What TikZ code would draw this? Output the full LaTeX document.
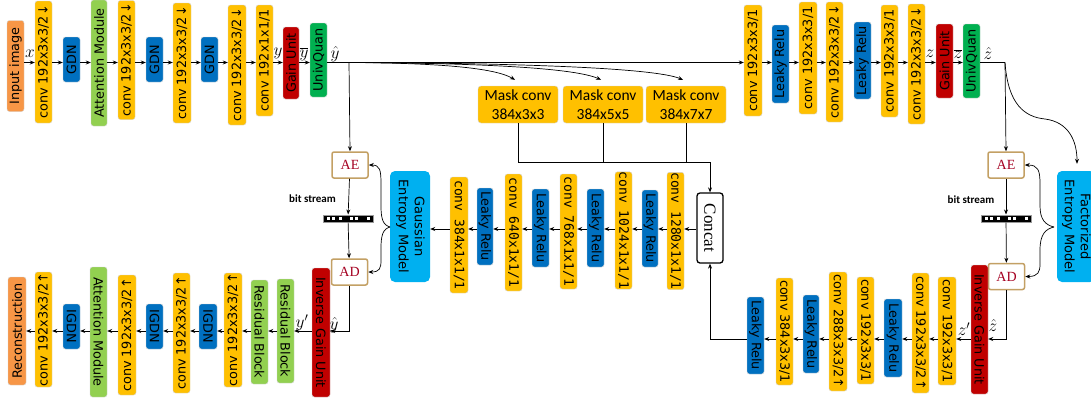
\documentclass[tikz,border=0pt]{standalone}
\usepackage{fontspec}
\usetikzlibrary{arrows.meta}
\setmainfont{DejaVu Sans}
\newfontfamily\monof{DejaVu Sans Mono}
\newfontfamily\calf{Carlito}
\newfontfamily\serf{Liberation Serif}
\definecolor{cOrange}{HTML}{F79646}
\definecolor{cYellow}{HTML}{FFC000}
\definecolor{cBlue}{HTML}{0070C0}
\definecolor{cGreenL}{HTML}{92D050}
\definecolor{cRed}{HTML}{C00000}
\definecolor{cGreenU}{HTML}{00B050}
\definecolor{cCyan}{HTML}{00B0F0}
\definecolor{cTan}{HTML}{C3A064}
\definecolor{cAE}{HTML}{A50021}
\newcommand\upT[1]{\rotatebox{90}{#1}}
\newcommand\dnT[1]{\rotatebox{-90}{#1}}
\newcommand\bx[7]{\node[blk,fill=#2,minimum width=#5pt,minimum height=#6pt] (#1) at (#3,#4) {#7};}
\begin{document}
\begin{tikzpicture}[x=1pt,y=-1pt,
  blk/.style={rounded corners=2.5pt, inner sep=0pt, draw=black!18, line width=0.4pt, font=\fontsize{12.8}{14}\selectfont},
  arr/.style={-{Stealth[length=5pt,width=4pt]}, line width=0.7pt},
  ln/.style={line width=0.7pt},
  lbl/.style={inner sep=0pt, font=\fontsize{17.28}{17}\selectfont},
  coder/.style={rounded corners=2pt, draw=cTan, line width=1.5pt, fill=white, text=cAE, inner sep=0pt, minimum width=36pt, minimum height=26pt, font=\serf\fontsize{14}{14}\selectfont},
  bitlbl/.style={inner sep=0pt, font=\calf\bfseries\fontsize{11}{11}\selectfont},
  bar/.style={draw=black!40, line width=1pt, fill=black, minimum width=50pt, minimum height=7pt, inner sep=0pt},
  mask/.style={rounded corners=3pt, fill=cYellow, draw=black!18, line width=0.4pt, minimum width=80pt, minimum height=37pt, inner sep=0pt, align=center, font=\calf\fontsize{15.5}{19}\selectfont},
  ent/.style={rounded corners=5pt, fill=cCyan, inner sep=0pt, font=\fontsize{13}{16}\selectfont},
  mono/.style={font=\monof\fontsize{13}{14}\selectfont}
]
\clip (0,0) rectangle (1091,400);
\coordinate (rowA) at (0,62.5);
\coordinate (rowB) at (0,229);
\coordinate (rowC) at (0,331);
\coordinate (rowD) at (0,339);
\coordinate (merge) at (0,162);

% ---------- top-left encoder ----------
\bx{in}{cOrange}{15.5}{66}{17}{91}{\upT{Input image}}
\bx{c1}{cYellow}{43.5}{62}{17}{122}{\upT{conv 192x3x3/2↓}}
\bx{g1}{cBlue}{71.5}{59.5}{17}{45}{\upT{GDN}}
\bx{am1}{cGreenL}{99}{63}{16}{126}{\upT{Attention Module}}
\bx{c2}{cYellow}{126.5}{60}{17}{119}{\upT{conv 192x3x3/2↓}}
\bx{g2}{cBlue}{154.5}{59.5}{17}{45}{\upT{GDN}}
\bx{c3}{cYellow}{182}{63}{18}{120}{\upT{conv 192x3x3/2↓}}
\bx{g3}{cBlue}{209.5}{59.5}{17}{45}{\upT{GDN}}
\bx{c4}{cYellow}{237}{65}{18}{120}{\upT{conv 192x3x3/2↓}}
\bx{c5}{cYellow}{264.5}{60.5}{17}{111}{\upT{conv 192x1x1/1}}
\bx{gu1}{cRed}{291}{63}{16}{72}{\upT{Gain Unit}}
\bx{uq1}{cGreenU}{318.5}{60}{17}{74}{\upT{UnivQuan}}

% ---------- top-right hyper encoder ----------
\bx{r1}{cYellow}{753}{60.5}{18}{111}{\upT{conv 192x3x3/1}}
\bx{r2}{cBlue}{780.5}{64}{17}{78}{\upT{Leaky Relu}}
\bx{r3}{cYellow}{808}{58}{18}{112}{\upT{conv 192x3x3/1}}
\bx{r4}{cYellow}{834.5}{62}{17}{120}{\upT{conv 192x3x3/2↓}}
\bx{r5}{cBlue}{862.5}{60.5}{17}{77}{\upT{Leaky Relu}}
\bx{r6}{cYellow}{889.5}{61}{17}{112}{\upT{conv 192x3x3/1}}
\bx{r7}{cYellow}{916.5}{64}{17}{120}{\upT{conv 192x3x3/2↓}}
\bx{gu2}{cRed}{944.5}{61}{17}{74}{\upT{Gain Unit}}
\bx{uq2}{cGreenU}{971.5}{61}{17}{74}{\upT{UnivQuan}}

% ---------- labels ----------
\node[lbl] (lx) at (30,54) {$x$};
\node[lbl] (ly) at (278,53) {$y$};
\node[lbl] (lyb) at (304,54) {$\overline{y}$};
\node[lbl] (lyh) at (335,54) {$\hat{y}$};
\node[lbl] (lz) at (930,54) {$z$};
\node[lbl] (lzb) at (958,54) {$\overline{z}$};
\node[lbl] (lzh) at (988,53) {$\hat{z}$};
\node[lbl] (lyp) at (302,323) {$y'$};
\node[lbl] (lyh2) at (334,325) {$\hat{y}$};
\node[lbl] (lzp) at (964,329) {$z'$};
\node[lbl] (lzh2) at (993,325) {$\hat{z}$};

% ---------- mask convs and concat ----------
\node[mask] (mc1) at (518,104.5) {Mask conv\\384x3x3};
\node[mask] (mc2) at (603,104.5) {Mask conv\\384x5x5};
\node[mask] (mc3) at (686,104.5) {Mask conv\\384x7x7};
\node[rounded corners=3pt, draw=black, line width=1.3pt, fill=white, minimum width=26pt, minimum height=70pt, inner sep=0pt, font=\serf\fontsize{17}{17}\selectfont] (cc) at (710,228) {\dnT{Concat}};

% ---------- middle context model ----------
\node[ent, minimum width=40pt, minimum height=111pt] (gem) at (410,226.5) {\dnT{\begin{tabular}{@{}c@{}}Gaussian\\Entropy Model\end{tabular}}};
\bx{m1}{cYellow}{459}{235}{18}{116}{\dnT{\monof\fontsize{13}{14}\selectfont conv 384x1x1/1}}
\bx{m2}{cBlue}{485}{226.5}{16}{77}{\dnT{Leaky Relu}}
\bx{m3}{cYellow}{513.5}{232.5}{17}{117}{\dnT{\monof\fontsize{13}{14}\selectfont conv 640x1x1/1}}
\bx{m4}{cBlue}{540.5}{228}{17}{78}{\dnT{Leaky Relu}}
\bx{m5}{cYellow}{568.5}{231.5}{17}{115}{\dnT{\monof\fontsize{13}{14}\selectfont conv 768x1x1/1}}
\bx{m6}{cBlue}{595.5}{228}{17}{78}{\dnT{Leaky Relu}}
\bx{m7}{cYellow}{623.5}{230.5}{17}{115}{\dnT{\monof\fontsize{13}{14}\selectfont conv 1024x1x1/1}}
\bx{m8}{cBlue}{650}{228.5}{16}{77}{\dnT{Leaky Relu}}
\bx{m9}{cYellow}{675.5}{231}{17}{116}{\dnT{\monof\fontsize{13}{14}\selectfont conv 1280x1x1/1}}

% ---------- coders ----------
\node[coder] (ae1) at (350,165) {AE};
\node[bar] (bar1) at (348,218.5) {};
\node[coder] (ad1) at (349.5,272) {AD};
\node[bitlbl] (bs1) at (312.5,199) {bit stream};
\node[coder] (ae2) at (1006,165) {AE};
\node[bar] (bar2) at (1006,218.5) {};
\node[coder] (ad2) at (1006.5,276.5) {AD};
\node[bitlbl] (bs2) at (971,200) {bit stream};
\foreach \b in {bar1,bar2}{
  \foreach \dx in {4,9,16,27,32,44}{
    \fill[white] (\b.west) ++(\dx,-1.5) rectangle ++(3,3);
  }
}
\node[ent, minimum width=38pt, minimum height=111pt] (fem) at (1076,226.5) {\dnT{\begin{tabular}{@{}c@{}}Factorized\\Entropy Model\end{tabular}}};

% ---------- bottom-left decoder ----------
\bx{rec}{cOrange}{17}{331}{18}{108}{\upT{Reconstruction}}
\bx{bc1}{cYellow}{43.5}{329.5}{17}{115}{\upT{conv 192x3x3/2↑}}
\bx{ig1}{cBlue}{71.5}{326.5}{17}{45}{\dnT{IGDN}}
\bx{bam}{cGreenL}{98.5}{332}{17}{130}{\dnT{Attention Module}}
\bx{bc2}{cYellow}{127}{335}{18}{120}{\upT{conv 192x3x3/2↑}}
\bx{ig2}{cBlue}{154.5}{326.5}{17}{45}{\dnT{IGDN}}
\bx{bc3}{cYellow}{181.5}{333}{17}{120}{\upT{conv 192x3x3/2↑}}
\bx{ig3}{cBlue}{208}{326.5}{18}{45}{\dnT{IGDN}}
\bx{bc4}{cYellow}{233}{330}{18}{114}{\upT{conv 192x3x3/2↑}}
\bx{rb1}{cGreenL}{259.5}{332}{17}{104}{\dnT{Residual Block}}
\bx{rb2}{cGreenL}{285.5}{331}{17}{104}{\dnT{Residual Block}}
\bx{igu1}{cRed}{321}{332.5}{18}{129}{\dnT{Inverse Gain Unit}}

% ---------- bottom-right hyper decoder ----------
\bx{bl1}{cBlue}{755.5}{335.5}{17}{77}{\dnT{Leaky Relu}}
\bx{bl2}{cYellow}{784.5}{331.5}{17}{107}{\dnT{conv 384x3x3/1}}
\bx{bl3}{cBlue}{811}{334}{16}{78}{\dnT{Leaky Relu}}
\bx{bl4}{cYellow}{838}{331.5}{18}{119}{\dnT{conv 288x3x3/2↑}}
\bx{bl5}{cYellow}{865.5}{330.5}{17}{107}{\dnT{conv 192x3x3/1}}
\bx{bl6}{cBlue}{893}{338}{18}{78}{\dnT{Leaky Relu}}
\bx{bl7}{cYellow}{920.5}{333}{17}{120}{\dnT{conv 192x3x3/2↑}}
\bx{bl8}{cYellow}{947}{331}{18}{108}{\dnT{conv 192x3x3/1}}
\bx{igu2}{cRed}{979.5}{329.5}{17}{129}{\dnT{Inverse Gain Unit}}

% ---------- connectors: top rows ----------
\foreach \a/\b in {in/c1,c1/g1,g1/am1,am1/c2,c2/g2,g2/c3,c3/g3,g3/c4,c4/c5,c5/gu1,gu1/uq1,uq1/r1,r1/r2,r2/r3,r3/r4,r4/r5,r5/r6,r6/r7,r7/gu2,gu2/uq2}
  \draw[arr] (\a.east |- rowA) -- (\b.west |- rowA);
\coordinate (split) at (349,62.5);
\coordinate (zsplit) at (1005,62.5);
\draw[arr] (split) -- (ae1.north);
\draw[arr] (split) .. controls (440,63) and (495,68) .. ([xshift=-3pt,yshift=6pt]mc1.north);
\draw[arr] (split) .. controls (480,63) and (575,68) .. ([xshift=-2pt,yshift=6pt]mc2.north);
\draw[arr] (split) .. controls (520,63) and (655,68) .. ([xshift=-3pt,yshift=6pt]mc3.north);
\draw[ln] (uq2.east |- rowA) -- (zsplit);
\draw[arr] (zsplit) -- (ae2.north);
\draw[arr] (zsplit) .. controls (1008,105) and (1025,117) .. (1045,119) .. controls (1068,122) and (1077,140) .. ([xshift=1pt,yshift=7pt]fem.north);

% ---------- mask convs to concat ----------
\draw[arr] (mc1.south) |- (cc.north |- merge) -- (cc.north);
\draw[ln] (mc2.south) -- (mc2.south |- merge);
\draw[ln] (mc3.south) -- (mc3.south |- merge);

% ---------- middle row ----------
\foreach \a/\b in {cc/m9,m9/m8,m8/m7,m7/m6,m6/m5,m5/m4,m4/m3,m3/m2,m2/m1,m1/gem}
  \draw[arr] (\a.west |- rowB) -- (\b.east |- rowB);

% ---------- coders ----------
\draw[arr] (ae1) -- (bar1);
\draw[arr] (bar1) -- (ad1);
\draw[arr] (ae2) -- (bar2);
\draw[arr] (bar2) -- (ad2);
\coordinate (tipL) at (390,227);
\draw[arr] (tipL) .. controls (383,225) and (381,219) .. (381,206) -- (381,184) .. controls (381,170) and (380,165) .. (ae1.east);
\draw[arr] (tipL) .. controls (383,229) and (381,235) .. (381,248) -- (381,260) .. controls (381,268) and (380,272) .. (ad1.east);
\coordinate (tipR) at (1054,227);
\draw[arr] (tipR) .. controls (1045,225) and (1040,219) .. (1040,206) -- (1040,184) .. controls (1040,170) and (1038,165) .. (ae2.east);
\draw[arr] (tipR) .. controls (1045,229) and (1040,235) .. (1040,250) -- (1040,264) .. controls (1040,272) and (1038,276.5) .. (ad2.east);

% ---------- bottom rows ----------
\draw[arr] (ad1.south) |- (igu1.east |- rowC);
\foreach \a/\b in {igu1/rb2,rb2/rb1,rb1/bc4,bc4/ig3,ig3/bc3,bc3/ig2,ig2/bc2,bc2/bam,bam/ig1,ig1/bc1,bc1/rec}
  \draw[arr] (\a.west |- rowC) -- (\b.east |- rowC);
\draw[arr] (ad2.south) |- (igu2.east |- rowD);
\foreach \a/\b in {igu2/bl8,bl8/bl7,bl7/bl6,bl6/bl5,bl5/bl4,bl4/bl3,bl3/bl2,bl2/bl1}
  \draw[arr] (\a.west |- rowD) -- (\b.east |- rowD);
\draw[arr] (bl1.west |- rowD) -| (cc.south);
\end{tikzpicture}
\end{document}
